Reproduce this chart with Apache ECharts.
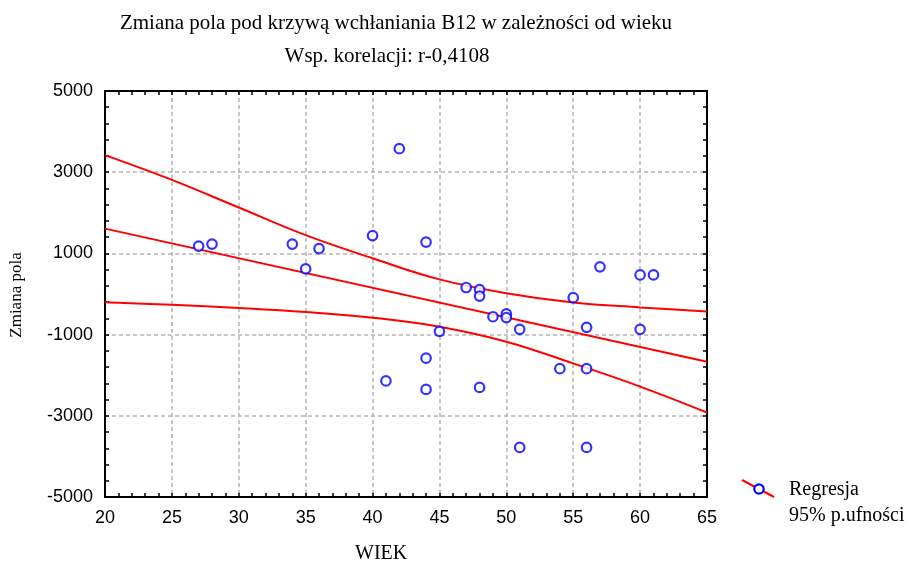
<!DOCTYPE html>
<html>
<head>
<meta charset="utf-8">
<script src="https://cdn.jsdelivr.net/npm/echarts@6/dist/echarts.min.js"></script>
<style>html,body{margin:0;padding:0;background:#fff}#c{width:910px;height:562px}</style>
</head>
<body>
<div id="c"></div>
<script>
// Observed points: age (WIEK) and change of area (Zmiana pola)
var ages   = [27, 28, 34, 35, 36, 40, 42, 44, 57, 60, 61, 47, 48, 48, 55, 49, 50, 50, 51, 56, 60, 45, 44, 44, 48, 54, 56, 51, 56, 41];
var values = [1180, 1230, 1230, 620, 1120, 1440, 3580, 1280, 670, 470, 470, 160, 110, -50, -90, -560, -490, -580, -870, -820, -870, -920, -1580, -2350, -2300, -1840, -1840, -3780, -3780, -2140];
// Regression line (read at the ends of the axis)
var regX = [20, 65];
var regY = [1610, -1670];
// 95% confidence band
var bandX = [20, 25, 30, 35, 40, 45, 50, 55, 60, 65];
var upperY = [3420, 2810, 2130, 1450, 880, 360, 20, -210, -330, -430];
var lowerY = [-205, -265, -345, -445, -585, -805, -1175, -1710, -2280, -2920];
// Ticks
var xMin = 20, xMax = 65, xStep = 5;
var yMin = -5000, yMax = 5000, yStep = 2000;

function pairs(xs, ys) { return xs.map(function (x, i) { return [x, ys[i]]; }); }

var serif = '"Liberation Serif", "DejaVu Serif", serif';
var sans = '"Liberation Sans", Arial, sans-serif';

var chart = echarts.init(document.getElementById('c'), null, { renderer: 'canvas' });

function valAxis(base) {
  return Object.assign({
    type: 'value',
    axisLine: { show: true, onZero: false, lineStyle: { color: '#000', width: 2 } },
    axisTick: { show: true, inside: true, length: 4, lineStyle: { color: '#000', width: 1.5 } },
    minorTick: { show: true, splitNumber: 5, length: 4, lineStyle: { color: '#000', width: 1.5 } },
    minorSplitLine: { show: false }
  }, base);
}

var option = {
  backgroundColor: '#fff',
  animation: false,
  title: [
    { text: 'Zmiana pola pod krzywą wchłaniania B12 w zależności od wieku', left: 391, top: 8, textAlign: 'center',
      textStyle: { fontFamily: serif, fontSize: 21, fontWeight: 'normal', color: '#000' } },
    { text: 'Wsp. korelacji: r-0,4108', left: 382, top: 41, textAlign: 'center',
      textStyle: { fontFamily: serif, fontSize: 21, fontWeight: 'normal', color: '#000' } }
  ],
  grid: { left: 105, right: 203, top: 91, bottom: 65, containLabel: false },
  xAxis: [
    valAxis({ position: 'bottom', min: xMin, max: xMax, interval: xStep,
      axisLabel: { color: '#000', fontFamily: sans, fontSize: 18, margin: 12 },
      splitLine: { show: true, lineStyle: { color: '#b4b4b4', type: [4, 3], width: 1.5 } } }),
    valAxis({ position: 'top', min: xMin, max: xMax, interval: xStep,
      axisLabel: { show: false }, splitLine: { show: false } })
  ],
  yAxis: [
    valAxis({ position: 'left', min: yMin, max: yMax, interval: yStep,
      axisLabel: { color: '#000', fontFamily: sans, fontSize: 18, margin: 12,
        formatter: function (v) { return String(v); } },
      splitLine: { show: true, lineStyle: { color: '#b4b4b4', type: [4, 3], width: 1.5 } } }),
    valAxis({ position: 'right', min: yMin, max: yMax, interval: yStep,
      axisLabel: { show: false }, splitLine: { show: false } })
  ],
  series: [
    { name: 'upper', type: 'line', data: pairs(bandX, upperY), smooth: 0.4, showSymbol: false,
      lineStyle: { color: '#ff0000', width: 2 }, z: 2 },
    { name: 'lower', type: 'line', data: pairs(bandX, lowerY), smooth: 0.4, showSymbol: false,
      lineStyle: { color: '#ff0000', width: 2 }, z: 2 },
    { name: 'Regresja', type: 'line', data: pairs(regX, regY), showSymbol: false,
      lineStyle: { color: '#ff0000', width: 2 }, z: 2 },
    { name: 'points', type: 'scatter', data: pairs(ages, values), symbol: 'circle', symbolSize: 9.5,
      itemStyle: { color: '#fff', borderColor: '#0000ff', borderWidth: 2.2 }, z: 3 }
  ],
  graphic: [
    { type: 'line', shape: { x1: 742, y1: 480, x2: 774, y2: 497 }, style: { stroke: '#ff0000', lineWidth: 2 } },
    { type: 'circle', shape: { cx: 759, cy: 489, r: 4.7 }, style: { fill: '#fff', stroke: '#0000ff', lineWidth: 2.2 } },
    { type: 'text', left: 789, top: 480, style: { text: 'Regresja', font: '20px ' + serif, fill: '#000' } },
    { type: 'text', left: 789, top: 506, style: { text: '95% p.ufności', font: '20px ' + serif, fill: '#000' } },
    { type: 'text', left: 355, top: 544, style: { text: 'WIEK', font: '20px ' + serif, fill: '#000' } },
    { type: 'text', x: 17, y: 295, rotation: Math.PI / 2,
      style: { text: 'Zmiana pola', font: '17px ' + serif, fill: '#000', align: 'center', verticalAlign: 'middle' } }
  ]
};
chart.setOption(option);
</script>
</body>
</html>
